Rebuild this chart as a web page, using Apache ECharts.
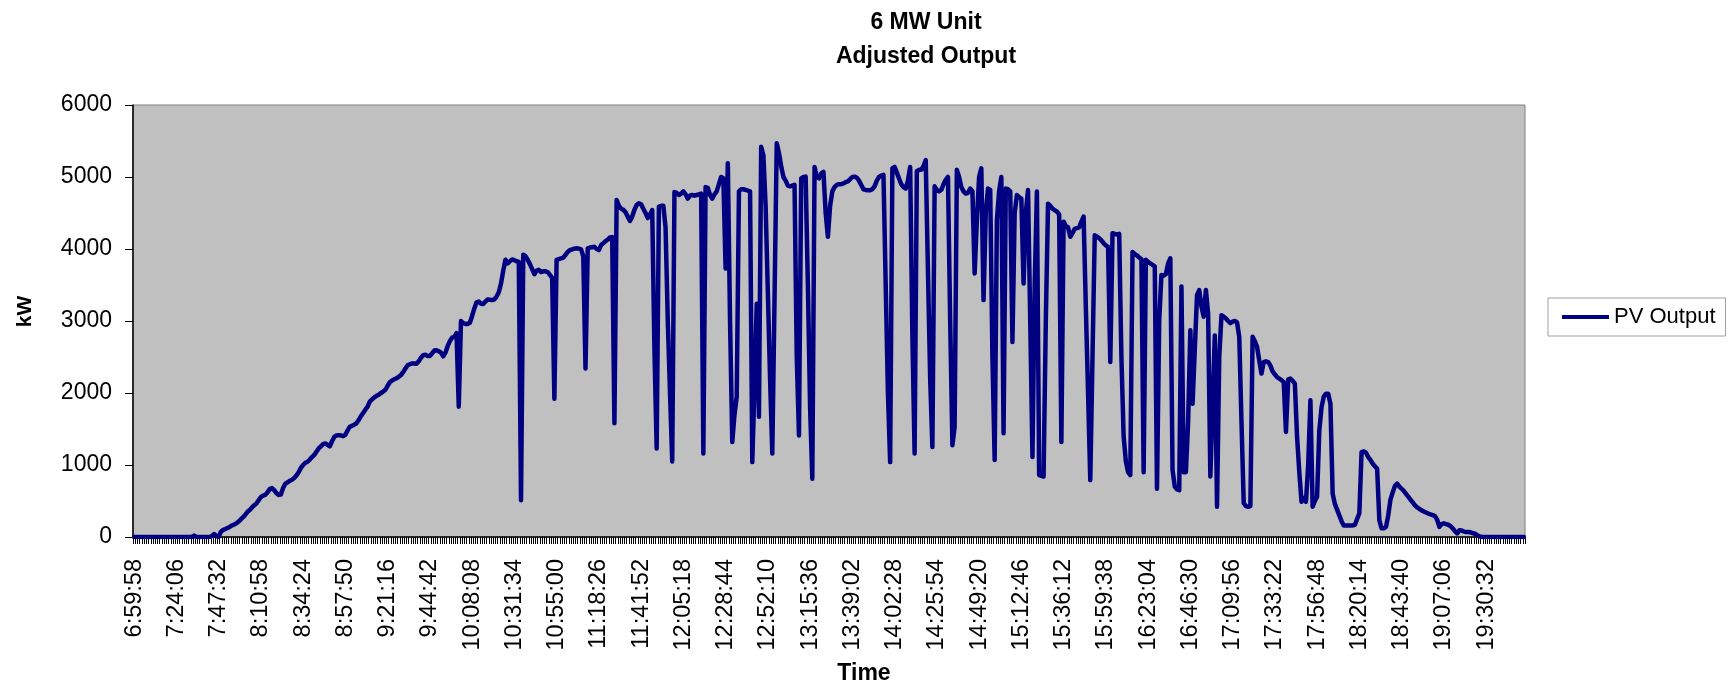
<!DOCTYPE html>
<html><head><meta charset="utf-8">
<script src="https://cdn.jsdelivr.net/npm/echarts@6/dist/echarts.min.js"></script>
<style>html,body{margin:0;padding:0;background:#fff}#c{width:1733px;height:689px}</style>
</head><body><div id="c"></div>
<script>
// Tick labels shown on the time axis (every 19th sample)
const tickLabels = ['6:59:58','7:24:06','7:47:32','8:10:58','8:34:24','8:57:50','9:21:16','9:44:42',
  '10:08:08','10:31:34','10:55:00','11:18:26','11:41:52','12:05:18','12:28:44','12:52:10','13:15:36',
  '13:39:02','14:02:28','14:25:54','14:49:20','15:12:46','15:36:12','15:59:38','16:23:04','16:46:30',
  '17:09:56','17:33:22','17:56:48','18:20:14','18:43:40','19:07:06','19:30:32'];

// PV output, kW (one value per sample)
const pvOutput = [
0,0,0,0,0,0,0,0,0,0,
0,0,0,0,0,0,0,0,0,0,
0,0,0,0,0,0,0,20,0,0,
0,0,0,0,0,15,40,15,0,70,
100,110,125,140,160,175,190,215,245,275,
310,350,375,410,440,465,510,555,575,585,
620,665,680,650,610,585,590,680,740,760,
780,795,820,855,900,960,1000,1030,1045,1075,
1110,1140,1185,1230,1260,1290,1300,1280,1260,1330,
1390,1410,1415,1410,1400,1420,1480,1530,1545,1560,
1580,1625,1680,1720,1770,1810,1880,1910,1940,1960,
1975,2000,2020,2045,2100,2150,2175,2190,2205,2225,
2250,2290,2340,2385,2400,2410,2410,2405,2440,2490,
2525,2530,2515,2515,2550,2590,2595,2580,2560,2510,
2560,2650,2720,2770,2780,2830,1810,3000,2970,2960,
2960,2975,3070,3175,3260,3270,3240,3235,3270,3300,
3295,3290,3300,3340,3400,3520,3700,3850,3800,3830,
3855,3845,3830,3820,510,3920,3900,3850,3790,3720,
3650,3700,3710,3680,3690,3690,3680,3640,3600,1920,
3850,3860,3870,3880,3920,3960,3985,3995,4005,4010,
4005,3995,3900,2340,4010,4020,4025,4030,4000,3985,
4055,4080,4110,4130,4160,4165,1580,4680,4600,4560,
4545,4510,4450,4390,4450,4545,4610,4635,4620,4560,
4500,4430,4480,4540,2600,1230,4590,4600,4600,4300,
3000,2000,1050,4790,4780,4750,4770,4800,4760,4700,
4740,4750,4740,4750,4760,4770,1160,4860,4850,4750,
4700,4760,4800,4900,5000,4980,3730,5190,3000,1320,
1700,1950,4800,4830,4830,4820,4810,4800,1040,2100,
3240,1670,5420,5300,4600,3400,2200,1160,3300,5470,
5330,5150,5000,4950,4880,4870,4880,4890,2500,1410,
4980,5000,5005,3500,1800,810,5140,5000,4980,5050,
5070,4500,4170,4600,4800,4860,4890,4900,4900,4910,
4930,4940,4970,5000,5005,4990,4950,4890,4830,4820,
4815,4815,4830,4870,4950,5000,5020,5030,3500,2000,
1040,5120,5140,5060,4980,4900,4860,4840,4950,5140,
2800,1160,5080,5100,5100,5150,5236,3700,2200,1250,
4870,4820,4800,4820,4900,4960,5000,3000,1275,1530,
5100,5000,4860,4800,4770,4780,4840,4800,3660,4400,
5000,5120,3290,4500,4840,4820,2500,1070,4400,4800,
5000,1440,4840,4830,4800,2710,4500,4750,4720,4700,
3520,4500,4820,3000,1110,3500,4800,860,850,840,
3000,4630,4600,4560,4540,4520,4480,1320,4380,4320,
4300,4170,4220,4280,4290,4300,4380,4450,3200,2000,
790,2500,4190,4170,4150,4120,4080,4050,4030,2430,
4220,4210,4200,4210,2500,1400,1050,900,860,3960,
3930,3910,3880,3860,900,3850,3820,3800,3780,3760,
670,3000,3640,3630,3650,3800,3870,930,700,660,
650,3480,900,900,1600,2870,1850,2600,3360,3430,
3200,3060,3430,3100,840,1800,2800,420,2500,3080,
3060,3035,3000,2970,2990,3000,2980,2780,1600,470,
430,420,430,2780,2720,2640,2450,2270,2430,2440,
2430,2380,2300,2260,2220,2200,2180,2150,1460,2190,
2200,2170,2130,1390,900,490,540,490,1000,1900,
420,500,560,1480,1800,1950,1990,1990,1850,600,
460,380,300,220,160,160,160,160,160,170,
250,330,1180,1190,1170,1110,1070,1020,980,950,
230,120,120,140,300,520,620,710,740,700,
670,640,600,560,520,480,440,410,390,370,
355,340,325,315,305,290,240,140,180,190,
180,170,150,120,80,50,95,90,75,70,
70,65,55,45,25,10,0,0,0,0,
0,0,0,0,0,0,0,0,0,0,
0,0,0,0,0,0
];

const samplesPerTick = 19;
const sampleStepSec = 74;

function toSec(s){ const p = s.split(':').map(Number); return p[0]*3600 + p[1]*60 + p[2]; }
function fmt(t){ const h = Math.floor(t/3600), m = Math.floor(t%3600/60), s = t%60;
  return h + ':' + String(m).padStart(2,'0') + ':' + String(s).padStart(2,'0'); }
const categories = pvOutput.map((v, i) => {
  const k = Math.floor(i / samplesPerTick), j = i % samplesPerTick;
  return fmt(toSec(tickLabels[k]) + j * sampleStepSec);
});

const FONT = '"Liberation Sans", Arial, sans-serif';
const chart = echarts.init(document.getElementById('c'), null, {renderer: 'canvas'});
chart.setOption({
  animation: false,
  textStyle: {fontFamily: FONT},
  title: {
    text: '6 MW Unit\nAdjusted Output', left: 921, top: 1, textAlign: 'center',
    textStyle: {fontSize: 23, fontWeight: 'bold', color: '#000', lineHeight: 34, fontFamily: FONT}
  },
  legend: {
    data: ['PV Output'], left: 1548, top: 298, orient: 'vertical',
    icon: 'rect', itemWidth: 47, itemHeight: 4, itemGap: 0,
    padding: [8, 10, 8, 14], borderColor: '#a0a0a0', borderWidth: 1, backgroundColor: '#fff',
    textStyle: {fontSize: 22, color: '#000', fontFamily: FONT}
  },
  grid: {left: 133, top: 105, width: 1392, height: 432, show: true,
    backgroundColor: '#c0c0c0', borderColor: '#808080', borderWidth: 1},
  xAxis: {
    type: 'category', data: categories, boundaryGap: true,
    axisLine: {lineStyle: {color: '#000', width: 1.5}},
    axisTick: {show: true, interval: 0, length: 7, lineStyle: {color: '#000', width: 1}},
    axisLabel: {interval: samplesPerTick - 1, rotate: 90, margin: 22, fontSize: 23.5, color: '#000', fontFamily: FONT},
    splitLine: {show: false}
  },
  yAxis: {
    type: 'value', min: 0, max: 6000, interval: 1000,
    axisLine: {show: true, lineStyle: {color: '#000', width: 1.5}},
    axisTick: {show: true, length: 8, lineStyle: {color: '#000'}},
    axisLabel: {margin: 21, fontSize: 23, color: '#000', fontFamily: FONT,
      formatter: v => String(v)},
    splitLine: {show: false}
  },
  graphic: [
    {type: 'text', x: 25.5, y: 311.5, rotation: Math.PI / 2,
     style: {text: 'kW', align: 'center', verticalAlign: 'middle', fill: '#000', font: 'bold 21px ' + FONT}},
    {type: 'text', x: 864, y: 674,
     style: {text: 'Time', align: 'center', verticalAlign: 'middle', fill: '#000', font: 'bold 23px ' + FONT}}
  ],
  series: [{
    name: 'PV Output', type: 'line', data: pvOutput, showSymbol: false, symbol: 'none',
    lineStyle: {color: '#000080', width: 4.5, join: 'round', cap: 'round'}, itemStyle: {color: '#000080'}
  }]
});
</script>
</body></html>
